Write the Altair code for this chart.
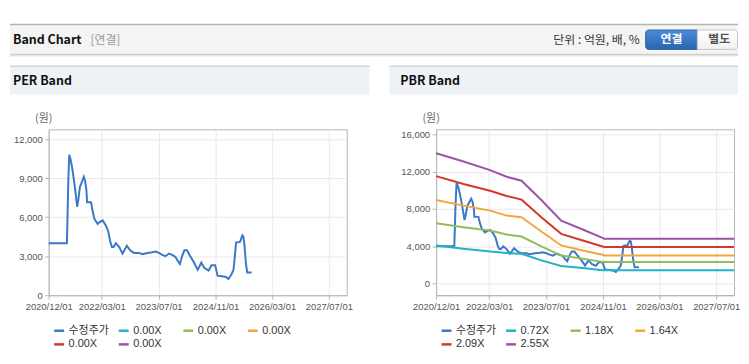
import altair as alt
import pandas as pd

# ---------------- data ----------------
price_dates = ["2020-12-01","2021-05-06","2021-05-12","2021-05-17","2021-05-26","2021-06-06","2021-06-20","2021-07-10",
               "2021-07-24","2021-08-02","2021-08-13","2021-08-25","2021-09-11","2021-09-28","2021-10-09","2021-10-21",
               "2021-10-26","2021-11-29","2021-12-13","2021-12-28","2022-01-25","2022-02-08","2022-03-09","2022-04-06",
               "2022-04-26","2022-05-13","2022-05-27","2022-06-10","2022-06-30","2022-07-29","2022-08-26","2022-10-02",
               "2022-11-05","2022-12-04","2023-01-15","2023-02-13","2023-03-27","2023-05-09","2023-06-06","2023-07-05",
               "2023-08-02","2023-08-30","2023-09-28","2023-10-26","2023-11-24","2023-12-08","2023-12-31","2024-01-19",
               "2024-02-08","2024-03-02","2024-03-25","2024-04-28","2024-06-01","2024-07-02","2024-07-28","2024-09-02",
               "2024-09-27","2024-10-29","2024-11-18","2024-12-25","2025-01-31","2025-02-20","2025-03-20","2025-04-04",
               "2025-04-18","2025-04-26","2025-05-30","2025-06-19","2025-06-28","2025-07-06","2025-07-20","2025-07-31",
               "2025-09-06"]
price_values = [4000,4000,6250,8550,10800,10450,9800,8550,7500,6800,7400,8300,8700,9100,8800,8000,
                7150,7150,6450,5870,5480,5600,5750,5350,4900,4100,3700,3700,4000,3700,3200,3800,
                3400,3250,3250,3150,3250,3300,3350,3250,3100,3000,3200,3100,2950,2700,2400,3000,
                3450,3450,3050,2550,1950,2500,2100,1900,2300,2300,1500,1450,1400,1250,1650,1950,
                3200,4050,4100,4600,4500,3950,2400,1750,1750]

band_dates = ["2020-12-01","2021-07-24","2022-03-09","2022-07-29","2022-12-04","2023-05-23",
              "2023-11-09","2024-05-12","2024-10-29","2024-11-13","2027-12-01"]
band_072 = [4089, 3733, 3449, 3271, 3200, 2489, 1884, 1671, 1440, 1422, 1422]
band_118 = [6471, 6044, 5689, 5262, 5049, 3982, 3022, 2667, 2330, 2311, 2311]
band_164 = [8960, 8356, 7822, 7289, 7111, 5582, 4089, 3556, 3093, 3022, 3022]
band_209 = [11520, 10667, 9956, 9387, 8996, 7111, 5333, 4622, 3982, 3911, 3911]
band_255 = [13973, 13085, 12160, 11449, 11022, 8960, 6755, 5796, 4907, 4800, 4800]

price_name = "수정주가"
pbr_names = ["0.72X", "1.18X", "1.64X", "2.09X", "2.55X"]
per_names = ["0.00X", "0.00X ", "0.00X  ", "0.00X   ", "0.00X    "]
series_colors = ["#3a78c8", "#22b3c3", "#8fbf5a", "#f2a63d", "#d4382c", "#9a56a5"]

x_ticks = ["2020-12-01", "2022-03-01", "2023-07-01", "2024-11-01", "2026-03-01", "2027-07-01"]
x_domain = ["2020-12-01", "2027-12-01"]
per_y_ticks = [0, 3000, 6000, 9000, 12000]
per_y_domain = [0, 12750]
pbr_y_ticks = [0, 4000, 8000, 12000, 16000]
pbr_y_domain = [-1244, 16530]

# ---------------- frames ----------------
price_df = pd.DataFrame({"date": price_dates, "value": price_values, "series": price_name})
band_rows = []
for name, vals in zip(pbr_names, [band_072, band_118, band_164, band_209, band_255]):
    for d, v in zip(band_dates, vals):
        band_rows.append({"date": d, "value": v, "series": name})
band_df = pd.DataFrame(band_rows)
one = pd.DataFrame({"k": [0]})

W, H = 300, 167
KR = "Noto Sans CJK KR"
LAT = "Liberation Sans, Noto Sans CJK KR"


def dt(s):
    y, m, d = (int(p) for p in s.split("-"))
    return alt.DateTime(year=y, month=m, date=d, utc=True)


def x_enc():
    return alt.X("date:T",
                 scale=alt.Scale(type="utc", domain=[dt(s) for s in x_domain]),
                 axis=alt.Axis(values=[dt(s) for s in x_ticks], format="%Y/%m/%d", title=None,
                               labelFlush=False, labelOverlap=False, grid=True))


def y_enc(domain, ticks):
    return alt.Y("value:Q", scale=alt.Scale(domain=domain, nice=False, zero=False),
                 axis=alt.Axis(values=ticks, format=",.0f", title=None, grid=True))


def color_enc(domain):
    return alt.Color("series:N", scale=alt.Scale(domain=domain, range=series_colors),
                     legend=alt.Legend(orient="none", legendX=4, legendY=196, columns=4, gridAlign="all",
                                       direction="horizontal",
                                       symbolType="stroke", symbolSize=100, symbolStrokeWidth=2.5,
                                       labelFont=LAT, labelFontSize=11, labelColor="#333333",
                                       columnPadding=4, rowPadding=2, labelOffset=3, title=None,
                                       padding=0))


def rect(x, x2, y, y2, **kw):
    return alt.Chart(one).mark_rect(**kw).encode(
        x=alt.value(x), x2=alt.value(x2), y=alt.value(y), y2=alt.value(y2))


def hrule(x, x2, y, color, width=1):
    return alt.Chart(one).mark_rule(color=color, strokeWidth=width).encode(
        x=alt.value(x), x2=alt.value(x2), y=alt.value(y))


def text(x, y, s, **kw):
    return alt.Chart(one).mark_text(text=s, baseline="middle", **kw).encode(x=alt.value(x), y=alt.value(y))


# ---------------- left panel (origin at page 47,128) ----------------
RIGHT_L = 694   # page x 741 measured from the left panel origin
left_deco = [
    rect(-39, RIGHT_L, -120, -28, fill="white"),
    rect(-39, RIGHT_L, -105.5, -75.5, fill="#f4f4f4"),
    hrule(-39, RIGHT_L, -105.5, "#b4b4b4", 1.5),
    hrule(-39, RIGHT_L, -75.5, "#c2c2c2", 1),
    hrule(-39, RIGHT_L, -74.5, "#dedede", 1),
    hrule(-39, RIGHT_L, -73.5, "#efefef", 1),
    text(-36, -90, "Band Chart", font=KR, fontSize=12.5, fontWeight="bold", color="#111111", align="left"),
    text(42, -90, "[연결]", font=KR, fontSize=12, color="#9a9a9a", align="left"),
    rect(-39, 323, -64, -35, fill="#eef2f7"),
    hrule(-39, 323, -63.5, "#d3d3d3", 1.5),
    text(-36, -48.5, "PER Band", font=KR, fontSize=12.5, fontWeight="bold", color="#111111", align="left"),
    text(-5, -10, "(원)", font=KR, fontSize=11, color="#666666", align="center"),
]
left_line = alt.Chart(price_df).mark_line(strokeWidth=2).encode(
    x=x_enc(), y=y_enc(per_y_domain, per_y_ticks), color=color_enc([price_name] + per_names))
left = alt.layer(*left_deco, left_line).properties(width=W, height=H)

# ---------------- right panel (origin at page 437,128) ----------------
RIGHT_R = 304   # page x 741 measured from the right panel origin
blue_grad = alt.Gradient(gradient="linear", x1=0, x2=0, y1=0, y2=1,
                         stops=[alt.GradientStop(color="#4a8bd9", offset=0),
                                alt.GradientStop(color="#2b66ad", offset=1)])
white_grad = alt.Gradient(gradient="linear", x1=0, x2=0, y1=0, y2=1,
                          stops=[alt.GradientStop(color="#ffffff", offset=0),
                                 alt.GradientStop(color="#f1f1f1", offset=1)])
right_deco = [
    text(205, -89.5, "단위 : 억원, 배, %", font=KR, fontSize=12, color="#333333", align="right"),
    rect(211, 263, -100, -80.5, fill=blue_grad, stroke="#2d64a6", strokeWidth=1,
         cornerRadiusTopLeft=3, cornerRadiusBottomLeft=3),
    rect(263, RIGHT_R - 0.5, -100, -80.5, fill=white_grad, stroke="#c6c6c6", strokeWidth=1,
         cornerRadiusTopRight=3, cornerRadiusBottomRight=3),
    text(237, -90.5, "연결", font=KR, fontSize=12, fontWeight="bold", color="white", align="center"),
    text(285, -90.5, "별도", font=KR, fontSize=12, fontWeight="bold", color="#555555", align="center"),
    rect(-47, RIGHT_R, -64, -35, fill="#eef2f7"),
    hrule(-47, RIGHT_R, -63.5, "#d3d3d3", 1.5),
    text(-36, -48.5, "PBR Band", font=KR, fontSize=12.5, fontWeight="bold", color="#111111", align="left"),
    text(-5, -10, "(원)", font=KR, fontSize=11, color="#666666", align="center"),
]
pbr_domain = [price_name] + pbr_names
right_price = alt.Chart(price_df).mark_line(strokeWidth=2).encode(
    x=x_enc(), y=y_enc(pbr_y_domain, pbr_y_ticks), color=color_enc(pbr_domain))
right_bands = alt.Chart(band_df).mark_line(strokeWidth=2).encode(
    x=x_enc(), y=y_enc(pbr_y_domain, pbr_y_ticks), color=color_enc(pbr_domain))
right = alt.layer(*right_deco, right_price, right_bands).properties(width=W, height=H)

chart = alt.hconcat(left, right, spacing=90, bounds="flush").resolve_scale(
    color="independent", x="independent", y="independent"
).resolve_legend(color="independent").properties(
    padding=0
).configure_view(
    stroke="#b4b4b4", strokeWidth=1
).configure_axis(
    labelFont=LAT, labelFontSize=9.5, labelColor="#555555", tickColor="#b4b4b4",
    domainColor="#b4b4b4", gridColor="#e9e9e9", tickSize=4, labelPadding=2.5
)

chart.save("out.html", embed_options={"renderer": "svg", "actions": False})
